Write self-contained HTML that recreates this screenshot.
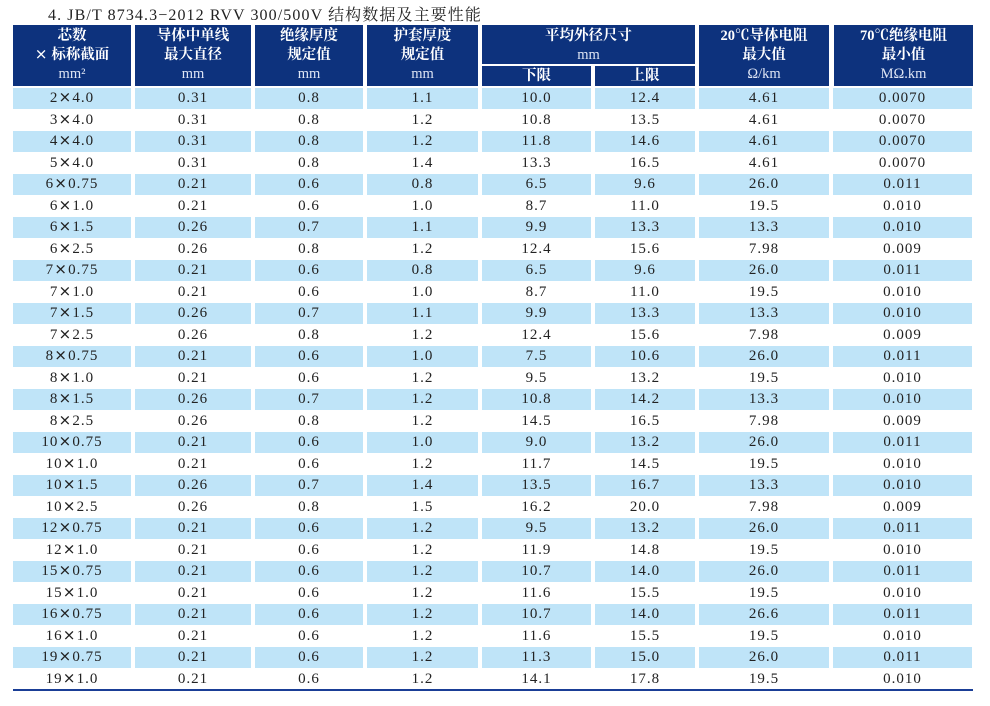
<!DOCTYPE html>
<html><head><meta charset="utf-8"><style>
body{margin:0;width:990px;height:706px;background:#fff;position:relative;overflow:hidden;font-family:"Liberation Serif","Noto Serif CJK SC",serif;color:#222}
.t{position:absolute;left:48px;top:2px;font-size:16px;letter-spacing:1.1px;color:#222;white-space:nowrap;font-family:"Liberation Serif","Noto Serif CJK SC",serif}
.h{position:absolute;background:#0d327d;color:#fff;text-align:center;font-size:14.5px;line-height:19px;font-family:"Liberation Serif","Noto Serif CJK SC",serif;font-weight:bold;box-sizing:border-box}
.h span{font-weight:normal;color:#dfe6f5}
table{position:absolute;left:9px;top:88px;border-collapse:separate;border-spacing:4px 0;font-size:15px;letter-spacing:1px}
td{height:21.5px;padding:0;text-align:center;line-height:21px;overflow:hidden}
i{font-style:normal;font-family:"Noto Sans CJK SC",sans-serif;font-weight:bold;font-size:13px;line-height:0;vertical-align:baseline}
tr:nth-child(odd) td{background:#bfe4f8;box-shadow:inset 0 -1px 0 #fff}
.bl{position:absolute;left:13px;top:689px;width:960px;height:2px;background:#1a3e96}
</style></head><body>
<div class="t">4. JB/T 8734.3−2012 RVV 300/500V 结构数据及主要性能</div>
<div class="h" style="left:13px;top:25px;width:118px;height:61px;padding-top:2px">芯数<br><i style="font-size:13px;color:#fff">×</i> 标称截面<br><span>mm²</span></div>
<div class="h" style="left:135px;top:25px;width:116px;height:61px;padding-top:2px">导体中单线<br>最大直径<br><span>mm</span></div>
<div class="h" style="left:255px;top:25px;width:108px;height:61px;padding-top:2px">绝缘厚度<br>规定值<br><span>mm</span></div>
<div class="h" style="left:367px;top:25px;width:111px;height:61px;padding-top:2px">护套厚度<br>规定值<br><span>mm</span></div>
<div class="h" style="left:482px;top:25px;width:213px;height:39px;padding-top:2px">平均外径尺寸<br><span>mm</span></div>
<div class="h" style="left:482px;top:66px;width:109px;height:20px;line-height:20px">下限</div>
<div class="h" style="left:595px;top:66px;width:100px;height:20px;line-height:20px">上限</div>
<div class="h" style="left:699px;top:25px;width:130px;height:61px;padding-top:2px">20℃导体电阻<br>最大值<br><span>Ω/km</span></div>
<div class="h" style="left:834px;top:25px;width:139px;height:61px;padding-top:2px">70℃绝缘电阻<br>最小值<br><span>MΩ.km</span></div>
<table>
<colgroup><col style="width:118px"><col style="width:116px"><col style="width:108px"><col style="width:111px"><col style="width:109px"><col style="width:100px"><col style="width:130px"><col style="width:139px"></colgroup>
<tr><td>2<i>×</i>4.0</td><td>0.31</td><td>0.8</td><td>1.1</td><td>10.0</td><td>12.4</td><td>4.61</td><td>0.0070</td></tr>
<tr><td>3<i>×</i>4.0</td><td>0.31</td><td>0.8</td><td>1.2</td><td>10.8</td><td>13.5</td><td>4.61</td><td>0.0070</td></tr>
<tr><td>4<i>×</i>4.0</td><td>0.31</td><td>0.8</td><td>1.2</td><td>11.8</td><td>14.6</td><td>4.61</td><td>0.0070</td></tr>
<tr><td>5<i>×</i>4.0</td><td>0.31</td><td>0.8</td><td>1.4</td><td>13.3</td><td>16.5</td><td>4.61</td><td>0.0070</td></tr>
<tr><td>6<i>×</i>0.75</td><td>0.21</td><td>0.6</td><td>0.8</td><td>6.5</td><td>9.6</td><td>26.0</td><td>0.011</td></tr>
<tr><td>6<i>×</i>1.0</td><td>0.21</td><td>0.6</td><td>1.0</td><td>8.7</td><td>11.0</td><td>19.5</td><td>0.010</td></tr>
<tr><td>6<i>×</i>1.5</td><td>0.26</td><td>0.7</td><td>1.1</td><td>9.9</td><td>13.3</td><td>13.3</td><td>0.010</td></tr>
<tr><td>6<i>×</i>2.5</td><td>0.26</td><td>0.8</td><td>1.2</td><td>12.4</td><td>15.6</td><td>7.98</td><td>0.009</td></tr>
<tr><td>7<i>×</i>0.75</td><td>0.21</td><td>0.6</td><td>0.8</td><td>6.5</td><td>9.6</td><td>26.0</td><td>0.011</td></tr>
<tr><td>7<i>×</i>1.0</td><td>0.21</td><td>0.6</td><td>1.0</td><td>8.7</td><td>11.0</td><td>19.5</td><td>0.010</td></tr>
<tr><td>7<i>×</i>1.5</td><td>0.26</td><td>0.7</td><td>1.1</td><td>9.9</td><td>13.3</td><td>13.3</td><td>0.010</td></tr>
<tr><td>7<i>×</i>2.5</td><td>0.26</td><td>0.8</td><td>1.2</td><td>12.4</td><td>15.6</td><td>7.98</td><td>0.009</td></tr>
<tr><td>8<i>×</i>0.75</td><td>0.21</td><td>0.6</td><td>1.0</td><td>7.5</td><td>10.6</td><td>26.0</td><td>0.011</td></tr>
<tr><td>8<i>×</i>1.0</td><td>0.21</td><td>0.6</td><td>1.2</td><td>9.5</td><td>13.2</td><td>19.5</td><td>0.010</td></tr>
<tr><td>8<i>×</i>1.5</td><td>0.26</td><td>0.7</td><td>1.2</td><td>10.8</td><td>14.2</td><td>13.3</td><td>0.010</td></tr>
<tr><td>8<i>×</i>2.5</td><td>0.26</td><td>0.8</td><td>1.2</td><td>14.5</td><td>16.5</td><td>7.98</td><td>0.009</td></tr>
<tr><td>10<i>×</i>0.75</td><td>0.21</td><td>0.6</td><td>1.0</td><td>9.0</td><td>13.2</td><td>26.0</td><td>0.011</td></tr>
<tr><td>10<i>×</i>1.0</td><td>0.21</td><td>0.6</td><td>1.2</td><td>11.7</td><td>14.5</td><td>19.5</td><td>0.010</td></tr>
<tr><td>10<i>×</i>1.5</td><td>0.26</td><td>0.7</td><td>1.4</td><td>13.5</td><td>16.7</td><td>13.3</td><td>0.010</td></tr>
<tr><td>10<i>×</i>2.5</td><td>0.26</td><td>0.8</td><td>1.5</td><td>16.2</td><td>20.0</td><td>7.98</td><td>0.009</td></tr>
<tr><td>12<i>×</i>0.75</td><td>0.21</td><td>0.6</td><td>1.2</td><td>9.5</td><td>13.2</td><td>26.0</td><td>0.011</td></tr>
<tr><td>12<i>×</i>1.0</td><td>0.21</td><td>0.6</td><td>1.2</td><td>11.9</td><td>14.8</td><td>19.5</td><td>0.010</td></tr>
<tr><td>15<i>×</i>0.75</td><td>0.21</td><td>0.6</td><td>1.2</td><td>10.7</td><td>14.0</td><td>26.0</td><td>0.011</td></tr>
<tr><td>15<i>×</i>1.0</td><td>0.21</td><td>0.6</td><td>1.2</td><td>11.6</td><td>15.5</td><td>19.5</td><td>0.010</td></tr>
<tr><td>16<i>×</i>0.75</td><td>0.21</td><td>0.6</td><td>1.2</td><td>10.7</td><td>14.0</td><td>26.6</td><td>0.011</td></tr>
<tr><td>16<i>×</i>1.0</td><td>0.21</td><td>0.6</td><td>1.2</td><td>11.6</td><td>15.5</td><td>19.5</td><td>0.010</td></tr>
<tr><td>19<i>×</i>0.75</td><td>0.21</td><td>0.6</td><td>1.2</td><td>11.3</td><td>15.0</td><td>26.0</td><td>0.011</td></tr>
<tr><td>19<i>×</i>1.0</td><td>0.21</td><td>0.6</td><td>1.2</td><td>14.1</td><td>17.8</td><td>19.5</td><td>0.010</td></tr>
</table>
<div class="bl"></div>
</body></html>
